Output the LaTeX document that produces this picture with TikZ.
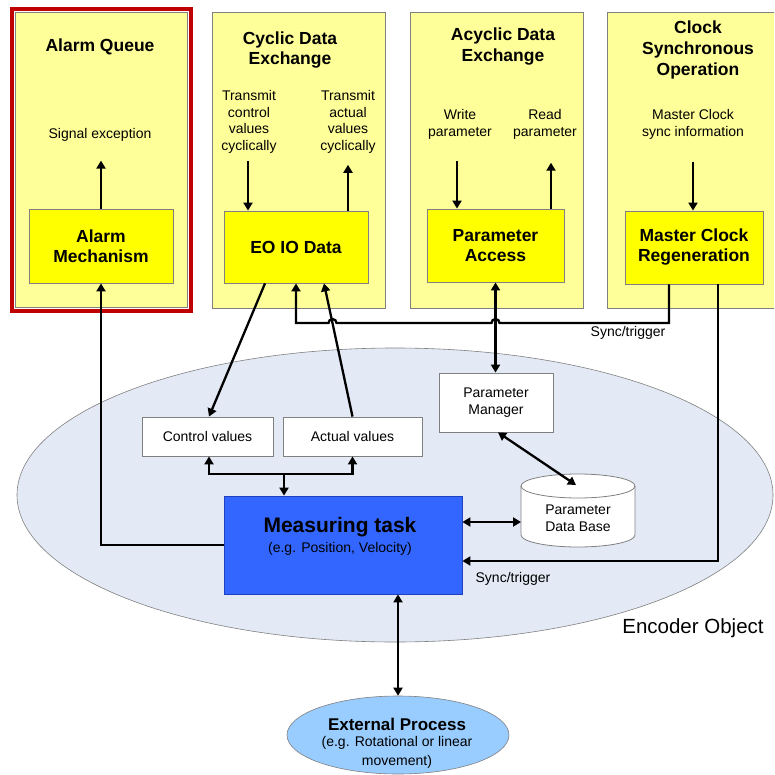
\documentclass[tikz,border=0pt]{standalone}
\usepackage{fontspec}
\setmainfont{Liberation Sans}
\usetikzlibrary{arrows.meta,shapes.geometric}
\definecolor{paleyellow}{HTML}{FFFF99}
\definecolor{boxyellow}{HTML}{FFFF00}
\definecolor{framered}{HTML}{C00000}
\definecolor{bordergray}{HTML}{808080}
\definecolor{encfill}{HTML}{E3EAF6}
\definecolor{taskblue}{HTML}{3366FF}
\definecolor{taskborder}{HTML}{1F40C0}
\definecolor{extblue}{HTML}{99CCFF}
\begin{document}
\begin{tikzpicture}[x=1pt,y=-1pt,
  every node/.style={font=\fontsize{14}{17}\selectfont, inner sep=0pt, align=center},
  groupbox/.style={draw=bordergray, fill=paleyellow, line width=0.8pt, rectangle},
  titletext/.style={font=\fontsize{17.5}{20.5}\selectfont\bfseries},
  funcbox/.style={draw=bordergray, fill=boxyellow, line width=0.8pt, rectangle, font=\fontsize{17.5}{20}\selectfont\bfseries},
  plainbox/.style={draw=bordergray, fill=white, line width=0.8pt, rectangle},
  labtext/.style={font=\fontsize{14}{17}\selectfont},
  conn/.style={line width=2.3pt, draw=black},
  arr/.style={conn, -{Triangle[length=8pt,width=9pt]}},
  darr/.style={conn, {Triangle[length=8pt,width=9pt]}-{Triangle[length=8pt,width=9pt]}},
]
\useasboundingbox (0,0) rectangle (774,775);
\clip (0,0) rectangle (774,775);

% Encoder object ellipse
\node[ellipse, draw=bordergray, fill=encfill, line width=0.6pt, minimum width=756, minimum height=294] (enc) at (395,495) {};
\node[font=\fontsize{20.5}{24}\selectfont] (enclabel) at (693,628) {Encoder Object};

% Alarm queue
\draw[framered, line width=3.5pt, fill=white] (12,9) rectangle (191,311);
\node[groupbox, minimum width=172.5, minimum height=295.5] (aq) at (101.25,159.75) {};
\node[titletext] (aqt) at (100,47) {Alarm Queue};
\node[labtext] (sig) at (100,135) {Signal exception};
\node[funcbox, minimum width=144, minimum height=74] (am) at (101,246) {Alarm\\Mechanism};

% Cyclic data exchange
\node[groupbox, minimum width=173, minimum height=296] (cyc) at (298.5,160) {};
\node[titletext] (cyct) at (290,50) {Cyclic Data\\Exchange};
\node[labtext, font=\fontsize{14}{16.7}\selectfont] (tc) at (249,122) {Transmit\\control\\values\\cyclically};
\node[labtext, font=\fontsize{14}{16.7}\selectfont] (ta) at (348,122) {Transmit\\actual\\values\\cyclically};
\node[funcbox, minimum width=144, minimum height=72] (eo) at (296,247) {EO IO Data};

% Acyclic data exchange
\node[groupbox, minimum width=173, minimum height=296] (acy) at (496.5,160) {};
\node[titletext] (acyt) at (503,46.5) {Acyclic Data\\Exchange};
\node[labtext] (wp) at (460,124.5) {Write\\parameter};
\node[labtext] (rp) at (545,124.5) {Read\\parameter};
\node[funcbox, minimum width=137, minimum height=73] (pa) at (495.5,245.5) {Parameter\\Access};

% Clock synchronous operation
\node[groupbox, minimum width=183, minimum height=296] (clk) at (698.5,160) {};
\node[titletext, font=\fontsize{17.5}{21}\selectfont\bfseries] (clkt) at (698,50) {Clock\\Synchronous\\Operation};
\node[labtext] (mcs) at (693,124.5) {Master Clock\\sync information};
\node[funcbox, minimum width=138, minimum height=73] (mcr) at (694,247.5) {Master Clock\\Regeneration};

% Encoder internals
\node[plainbox, minimum width=131, minimum height=39] (cv) at (207.5,436.5) {Control values};
\node[plainbox, minimum width=139, minimum height=39] (av) at (352.5,436.5) {Actual values};
\node[plainbox, minimum width=114, minimum height=59] (pm) at (496,402.5) {Parameter\\Manager};

\node[draw=taskborder, fill=taskblue, line width=0.8pt, minimum width=238, minimum height=98] (mt) at (343,545) {};
\node[font=\fontsize{21}{25}\selectfont\bfseries] (mtt) at (340,527) {Measuring task};
\node[labtext] (mts) at (340,549) {(e.g. Position, Velocity)};

% Data base cylinder
\draw[bordergray, fill=white, line width=0.8pt] (521,486) -- (521,535)
  arc[start angle=180, end angle=360, x radius=57pt, y radius=12pt] -- (635,486)
  arc[start angle=0, end angle=180, x radius=57pt, y radius=12pt] -- cycle;
\draw[bordergray, line width=0.8pt] (521,486) arc[start angle=180, end angle=360, x radius=57pt, y radius=12pt];
\node[labtext] (db) at (578,518) {Parameter\\Data Base};
\coordinate (dbtop) at (576,485);
\coordinate (dbleft) at (521,522);

% External process
\node[ellipse, draw=bordergray, fill=extblue, line width=0.6pt, minimum width=222, minimum height=78] (ext) at (398,735) {};
\node[font=\fontsize{17}{20}\selectfont\bfseries] (extt) at (397,724) {External Process};
\node[labtext, font=\fontsize{14}{19}\selectfont] (exts) at (397,752.5) {(e.g. Rotational or linear\\movement)};

% Connectors in the top boxes
\draw[arr] (am.north) -- ++(0,-48);
\draw[arr, shorten <=7pt] ([xshift=-1pt]tc.south) -- ([xshift=-1pt]tc.south |- eo.north);
\draw[arr, shorten >=11pt] (ta.south |- eo.north) -- (ta.south);
\draw[arr, shorten <=21pt] ([xshift=-3pt]wp.south) -- ([xshift=-3pt]wp.south |- pa.north);
\draw[arr, shorten >=23pt] ([xshift=6pt]rp.south |- pa.north) -- ([xshift=6pt]rp.south);
\draw[arr, shorten <=22pt] (mcs.south) -- (mcs.south |- mcr.north);

% EO IO data <-> values
\draw[arr] ([xshift=-31pt]eo.south) -- ([xshift=1.5pt]cv.north);
\draw[arr] (av.north) -- ([xshift=28pt]eo.south);

% Sync/trigger to EO IO data, jumping over crossings
\draw[arr] ([xshift=-25pt]mcr.south) |- (499.5,323)
  arc[start angle=0, end angle=180, radius=4pt] -- (336.5,323)
  arc[start angle=0, end angle=180, radius=4pt] -| (eo.south);
\node[labtext] (sync1) at (628,333) {Sync/trigger};

% Parameter access <-> manager <-> data base
\draw[darr] (pa.south) -- (pa.south |- pm.north);
\draw[darr] ([xshift=2pt]pm.south) -- (dbtop);
\draw[darr] ([yshift=23pt]mt.east) -- (dbleft);

% Master clock to measuring task
\draw[arr] ([xshift=24pt]mcr.south) |- ([yshift=-16pt]mt.east);
\node[labtext] (sync2) at (513,579) {Sync/trigger};

% Measuring task to alarm mechanism
\draw[arr] (mt.west) -| (am.south);

% Measuring task to values
\coordinate (bus) at (284,474);
\draw[arr] (bus) -- (bus |- mt.north);
\draw[arr] (bus) -| ([xshift=1.5pt]cv.south);
\draw[arr] (bus) -| (av.south);

% Measuring task <-> external process
\draw[darr] ([xshift=55pt]mt.south) -- ([xshift=55pt]mt.south |- ext.north);
\end{tikzpicture}
\end{document}
